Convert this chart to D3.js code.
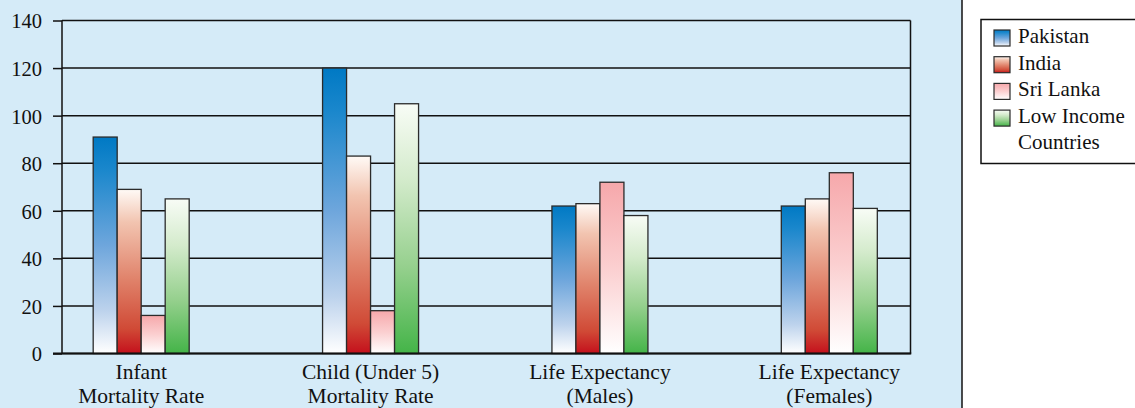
<!DOCTYPE html>
<html>
<head>
<meta charset="utf-8">
<script src="https://cdn.jsdelivr.net/npm/d3@7"></script>
<style>
  html, body { margin: 0; padding: 0; background: #ffffff; }
  svg { display: block; }
</style>
</head>
<body>
<svg id="chart" width="1135" height="408"></svg>
<script>
// Health indicators by category
const categories = [
  ["Infant", "Mortality Rate"],
  ["Child (Under 5)", "Mortality Rate"],
  ["Life Expectancy", "(Males)"],
  ["Life Expectancy", "(Females)"]
];
const seriesNames = ["Pakistan", "India", "Sri Lanka", "Low Income Countries"];
const pakistan   = [91, 120, 62, 62];
const india      = [69, 83, 63, 65];
const sriLanka   = [16, 18, 72, 76];
const lowIncome  = [65, 105, 58, 61];
const seriesValues = [pakistan, india, sriLanka, lowIncome];
const yTicks = [0, 20, 40, 60, 80, 100, 120, 140];

const FONT = "'Liberation Serif'";

// gradient stops per series: [offset, colour], top to bottom
const gradients = [
  [[0, "#0079c4"], [0.15, "#1a87cc"], [0.5, "#6ea6dc"], [0.8, "#bcd2ec"], [1, "#ffffff"]],
  [[0, "#fffaf6"], [0.2, "#f2c4b0"], [0.55, "#e0826a"], [0.85, "#d04a36"], [1, "#c4101c"]],
  [[0, "#f6a8ab"], [0.5, "#fbcfd0"], [1, "#ffffff"]],
  [[0, "#f8fcf6"], [0.3, "#d4ebcc"], [0.65, "#96d08e"], [1, "#44b448"]]
];

const svg = d3.select("#chart");
const W = 1135, H = 408;
const plot = { left: 62, right: 910.5, top: 20.5, bottom: 353.5 };

// panel backgrounds
svg.append("rect").attr("x", 0).attr("y", 0).attr("width", 962).attr("height", H).attr("fill", "#d5ebf8");
svg.append("line").attr("x1", 962).attr("x2", 962).attr("y1", 0).attr("y2", H)
  .attr("stroke", "#111").attr("stroke-width", 1.5);

const defs = svg.append("defs");
gradients.forEach((stops, i) => {
  const g = defs.append("linearGradient").attr("id", "grad" + i)
    .attr("x1", 0).attr("y1", 0).attr("x2", 0).attr("y2", 1);
  stops.forEach(s => g.append("stop").attr("offset", s[0]).attr("stop-color", s[1]));
});

const y = d3.scaleLinear().domain([0, 140]).range([plot.bottom, plot.top]);
const x0 = d3.scaleBand().domain(d3.range(categories.length)).range([26.5, 944]).padding(0);
const groupWidth = 96;
const x1 = d3.scaleBand().domain(d3.range(seriesNames.length)).range([0, groupWidth]).padding(0);

// gridlines
svg.append("g").selectAll("line").data(yTicks).join("line")
  .attr("x1", plot.left).attr("x2", plot.right)
  .attr("y1", d => y(d)).attr("y2", d => y(d))
  .attr("stroke", "#111").attr("stroke-width", 1.5);

// y axis with outward ticks
const yAxis = svg.append("g").attr("transform", `translate(${plot.left},0)`)
  .call(d3.axisLeft(y).tickValues(yTicks).tickSize(9).tickPadding(11));
yAxis.select(".domain").remove();
yAxis.selectAll(".tick line").attr("stroke", "#111").attr("stroke-width", 1.5);
yAxis.selectAll(".tick text").style("font-family", FONT).style("font-size", "20.5px")
  .attr("fill", "#111").attr("dy", "0.36em");

// bars
const groups = svg.append("g").selectAll("g").data(categories).join("g")
  .attr("transform", (d, i) => `translate(${x0(i) + x0.bandwidth() / 2 - groupWidth / 2},0)`);
groups.selectAll("rect")
  .data((d, ci) => seriesValues.map((vals, si) => ({ si, v: vals[ci] })))
  .join("rect")
  .attr("x", d => x1(d.si))
  .attr("width", x1.bandwidth())
  .attr("y", d => y(d.v))
  .attr("height", d => y(0) - y(d.v))
  .attr("fill", d => `url(#grad${d.si})`)
  .attr("stroke", "#2b2b2b").attr("stroke-width", 1.3);

// plot frame
svg.append("line").attr("x1", plot.left).attr("x2", plot.left).attr("y1", plot.top).attr("y2", plot.bottom)
  .attr("stroke", "#111").attr("stroke-width", 1.5);
svg.append("line").attr("x1", plot.right).attr("x2", plot.right).attr("y1", plot.top).attr("y2", plot.bottom)
  .attr("stroke", "#111").attr("stroke-width", 1.5);
svg.append("line").attr("x1", plot.left - 9).attr("x2", plot.right + 0.75).attr("y1", plot.bottom).attr("y2", plot.bottom)
  .attr("stroke", "#111").attr("stroke-width", 2.2);

// category labels, two lines each
const labelGroups = svg.append("g").selectAll("g").data(categories).join("g");
labelGroups.selectAll("text").data((d, i) => d.map((t, j) => ({ t, j, i }))).join("text")
  .attr("text-anchor", "middle")
  .style("font-family", FONT).style("font-size", "21.5px").attr("fill", "#111")
  .attr("x", d => x0(d.i) + x0.bandwidth() / 2)
  .attr("y", d => 379 + d.j * 24)
  .text(d => d.t);

// legend
const lg = svg.append("g");
lg.append("rect").attr("x", 981).attr("y", 19.5).attr("width", 170).attr("height", 144)
  .attr("fill", "#ffffff").attr("stroke", "#111").attr("stroke-width", 1.5);
const legendLines = [["Pakistan"], ["India"], ["Sri Lanka"], ["Low Income", "Countries"]];
legendLines.forEach((lines, i) => {
  const by = 43 + i * 26.7;
  lg.append("rect").attr("x", 994).attr("y", by - 13).attr("width", 16).attr("height", 16)
    .attr("fill", `url(#grad${i})`).attr("stroke", "#2b2b2b").attr("stroke-width", 1.2);
  lines.forEach((t, j) => {
    lg.append("text").attr("x", 1018).attr("y", by + j * 25.5)
      .style("font-family", FONT).style("font-size", "21px").attr("fill", "#111").text(t);
  });
});
</script>
</body>
</html>
